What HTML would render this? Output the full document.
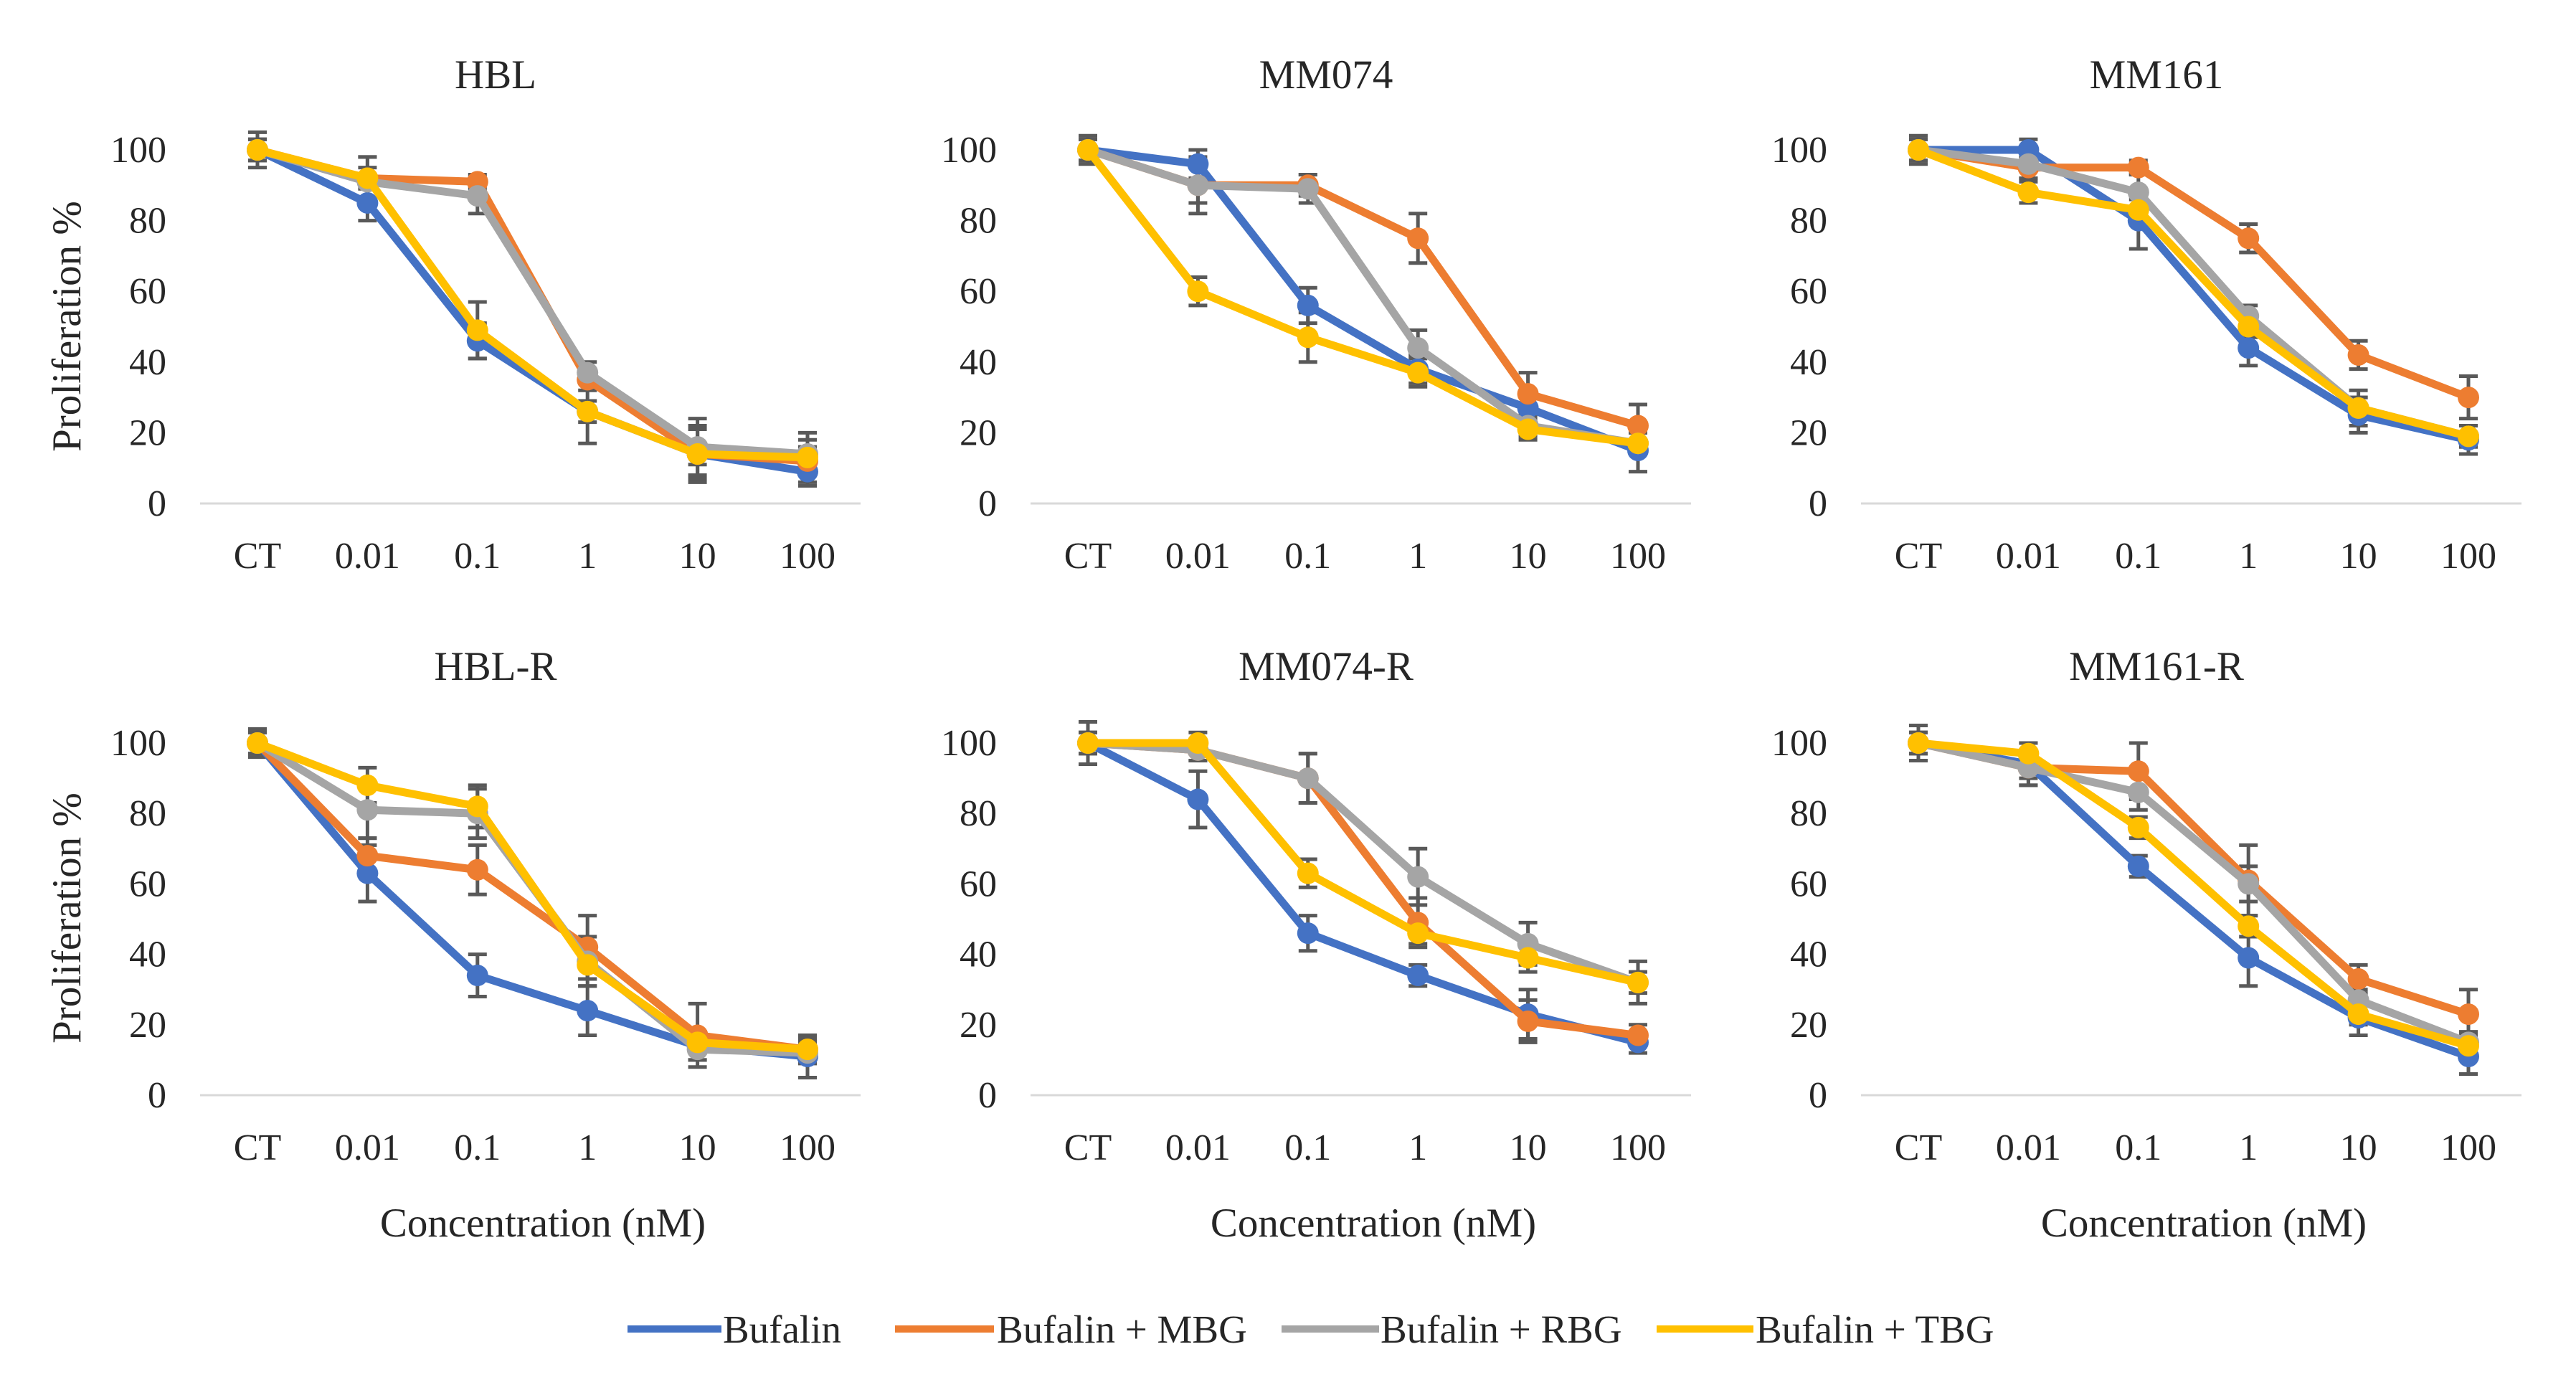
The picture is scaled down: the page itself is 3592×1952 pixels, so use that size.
<!DOCTYPE html>
<html><head><meta charset="utf-8"><style>
html,body{margin:0;padding:0;background:#fff;}
svg{display:block;font-family:"Liberation Serif",serif;}
</style></head><body>
<svg id="chart" width="3592" height="1952" viewBox="0 0 3592 1952" xmlns="http://www.w3.org/2000/svg">
<rect width="3592" height="1952" fill="#fff"/>
<g id="panels"></g>
<g font-size="55" fill="#262626">
 <line x1="875" y1="1853" x2="1006" y2="1853" stroke="#4472C4" stroke-width="10"/>
 <text x="1008" y="1872">Bufalin</text>
 <line x1="1248" y1="1853" x2="1386" y2="1853" stroke="#ED7D31" stroke-width="10"/>
 <text x="1390" y="1872">Bufalin + MBG</text>
 <line x1="1787" y1="1853" x2="1923" y2="1853" stroke="#A5A5A5" stroke-width="10"/>
 <text x="1925" y="1872">Bufalin + RBG</text>
 <line x1="2310" y1="1853" x2="2445" y2="1853" stroke="#FFC000" stroke-width="10"/>
 <text x="2448" y="1872">Bufalin + TBG</text>
</g>
</svg>
<script>
const categories = ["CT","0.01","0.1","1","10","100"];
const yTicks = [0,20,40,60,80,100];
const panelTitles = ["HBL","MM074","MM161","HBL-R","MM074-R","MM161-R"];
const seriesNames = ["bufalin","bufalin-mbg","bufalin-rbg","bufalin-tbg"];
// values per panel: [bufalin, +MBG, +RBG, +TBG]
const hblVals = [[100,85,46,26,14,9],[100,92,91,35,14,12],[100,91,87,37,16,14],[100,92,49,26,14,13]];
const mm074Vals = [[100,96,56,38,27,15],[100,90,90,75,31,22],[100,90,89,44,22,17],[100,60,47,37,21,17]];
const mm161Vals = [[100,100,80,44,25,18],[100,95,95,75,42,30],[100,96,88,53,27,19],[100,88,83,50,27,19]];
const hblRVals = [[100,63,34,24,14,11],[100,68,64,42,17,13],[100,81,80,38,13,12],[100,88,82,37,15,13]];
const mm074RVals = [[100,84,46,34,23,15],[100,98,90,49,21,17],[100,98,90,62,43,32],[100,100,63,46,39,32]];
const mm161RVals = [[100,94,65,39,22,11],[100,93,92,61,33,23],[100,93,86,60,27,15],[100,97,76,48,23,14]];
// error bar half-widths
const hblErr = [[5,5,5,9,7,4],[3,3,2,3,8,6],[3,7,5,3,8,6],[3,6,8,3,3,3]];
const mm074Err = [[4,4,5,4,4,6],[3,5,3,7,6,6],[3,8,4,5,3,3],[3,4,7,4,3,3]];
const mm161Err = [[4,3,8,5,5,4],[3,3,2,4,4,6],[3,4,5,3,5,3],[3,3,3,3,3,3]];
const hblRErr = [[4,8,6,7,4,6],[3,5,7,9,9,4],[3,8,7,7,3,3],[3,5,6,4,3,3]];
const mm074RErr = [[6,8,5,3,7,3],[3,3,7,7,6,3],[3,3,7,8,6,6],[3,3,4,3,4,3]];
const mm161RErr = [[5,6,3,8,5,5],[3,3,8,10,4,7],[3,5,5,5,3,3],[3,3,3,3,3,3]];

const panelVals = [hblVals,mm074Vals,mm161Vals,hblRVals,mm074RVals,mm161RVals];
const panelErr = [hblErr,mm074Err,mm161Err,hblRErr,mm074RErr,mm161RErr];
const colors = ["#4472C4","#ED7D31","#A5A5A5","#FFC000"];
const NS = "http://www.w3.org/2000/svg";
const root = document.getElementById("panels");

function mk(tag, attrs, parent){
  const e = document.createElementNS(NS, tag);
  for (const k in attrs) e.setAttribute(k, attrs[k]);
  parent.appendChild(e);
  return e;
}

for (let p = 0; p < 6; p++){
  const col = p % 3, row = Math.floor(p / 3);
  const ct = 359 + col * 1158;
  const step = 153.4;
  const y0 = row === 0 ? 702 : 1527;
  const yScale = row === 0 ? 4.93 : 4.91;
  const xAt = i => ct + i * step;
  const yAt = v => y0 - v * yScale;

  const g = mk("g", {}, root);
  
  

  const t = mk("text", {x: ct + 332, y: row === 0 ? 123 : 948, "text-anchor": "middle", "font-size": 57, fill: "#262626"}, g);
  
  
  t.textContent = panelTitles[p];

  const ax = mk("line", {x1: ct - 80, x2: ct + 5 * step + 74, y1: y0, y2: y0, stroke: "#D9D9D9", "stroke-width": 3}, g);
  
  

  yTicks.forEach(v => {
    const tl = mk("text", {x: ct - 127, y: yAt(v) + 17, "text-anchor": "end", "font-size": 52, fill: "#262626"}, g);
    
    
    tl.textContent = v;
  });
  categories.forEach((c, i) => {
    const tl = mk("text", {x: xAt(i), y: y0 + 90, "text-anchor": "middle", "font-size": 52, fill: "#262626"}, g);
    
    
    tl.textContent = c;
  });
  if (col === 0){
    const yt = mk("text", {x: 0, y: 0, transform: `translate(112,${y0 - 247}) rotate(-90)`, "text-anchor": "middle", "font-size": 57, fill: "#262626"}, g);
    
    
    yt.textContent = "Proliferation %";
  }
  if (row === 1){
    const xt = mk("text", {x: ct + 398, y: y0 + 197, "text-anchor": "middle", "font-size": 57, fill: "#262626"}, g);
    
    
    xt.textContent = "Concentration (nM)";
  }

  // error bars
  panelVals[p].forEach((vals, s) => {
    vals.forEach((v, i) => {
      const e = panelErr[p][s][i];
      const eg = mk("g", {stroke: "#595959", "stroke-width": 5}, g);
      
      
      mk("line", {x1: xAt(i), x2: xAt(i), y1: yAt(v - e), y2: yAt(v + e)}, eg);
      mk("line", {x1: xAt(i) - 13, x2: xAt(i) + 13, y1: yAt(v - e), y2: yAt(v - e)}, eg);
      mk("line", {x1: xAt(i) - 13, x2: xAt(i) + 13, y1: yAt(v + e), y2: yAt(v + e)}, eg);
    });
  });

  // series
  panelVals[p].forEach((vals, s) => {
    const sg = mk("g", {}, g);
    
    
    const pts = vals.map((v, i) => xAt(i) + "," + yAt(v)).join(" ");
    const pl = mk("polyline", {points: pts, fill: "none", stroke: colors[s], "stroke-width": 11, "stroke-linejoin": "round"}, sg);
    
    
    vals.forEach((v, i) => {
      const c = mk("circle", {cx: xAt(i), cy: yAt(v), r: 15, fill: colors[s]}, sg);
      
      
    });
  });
}
</script>
</body></html>
